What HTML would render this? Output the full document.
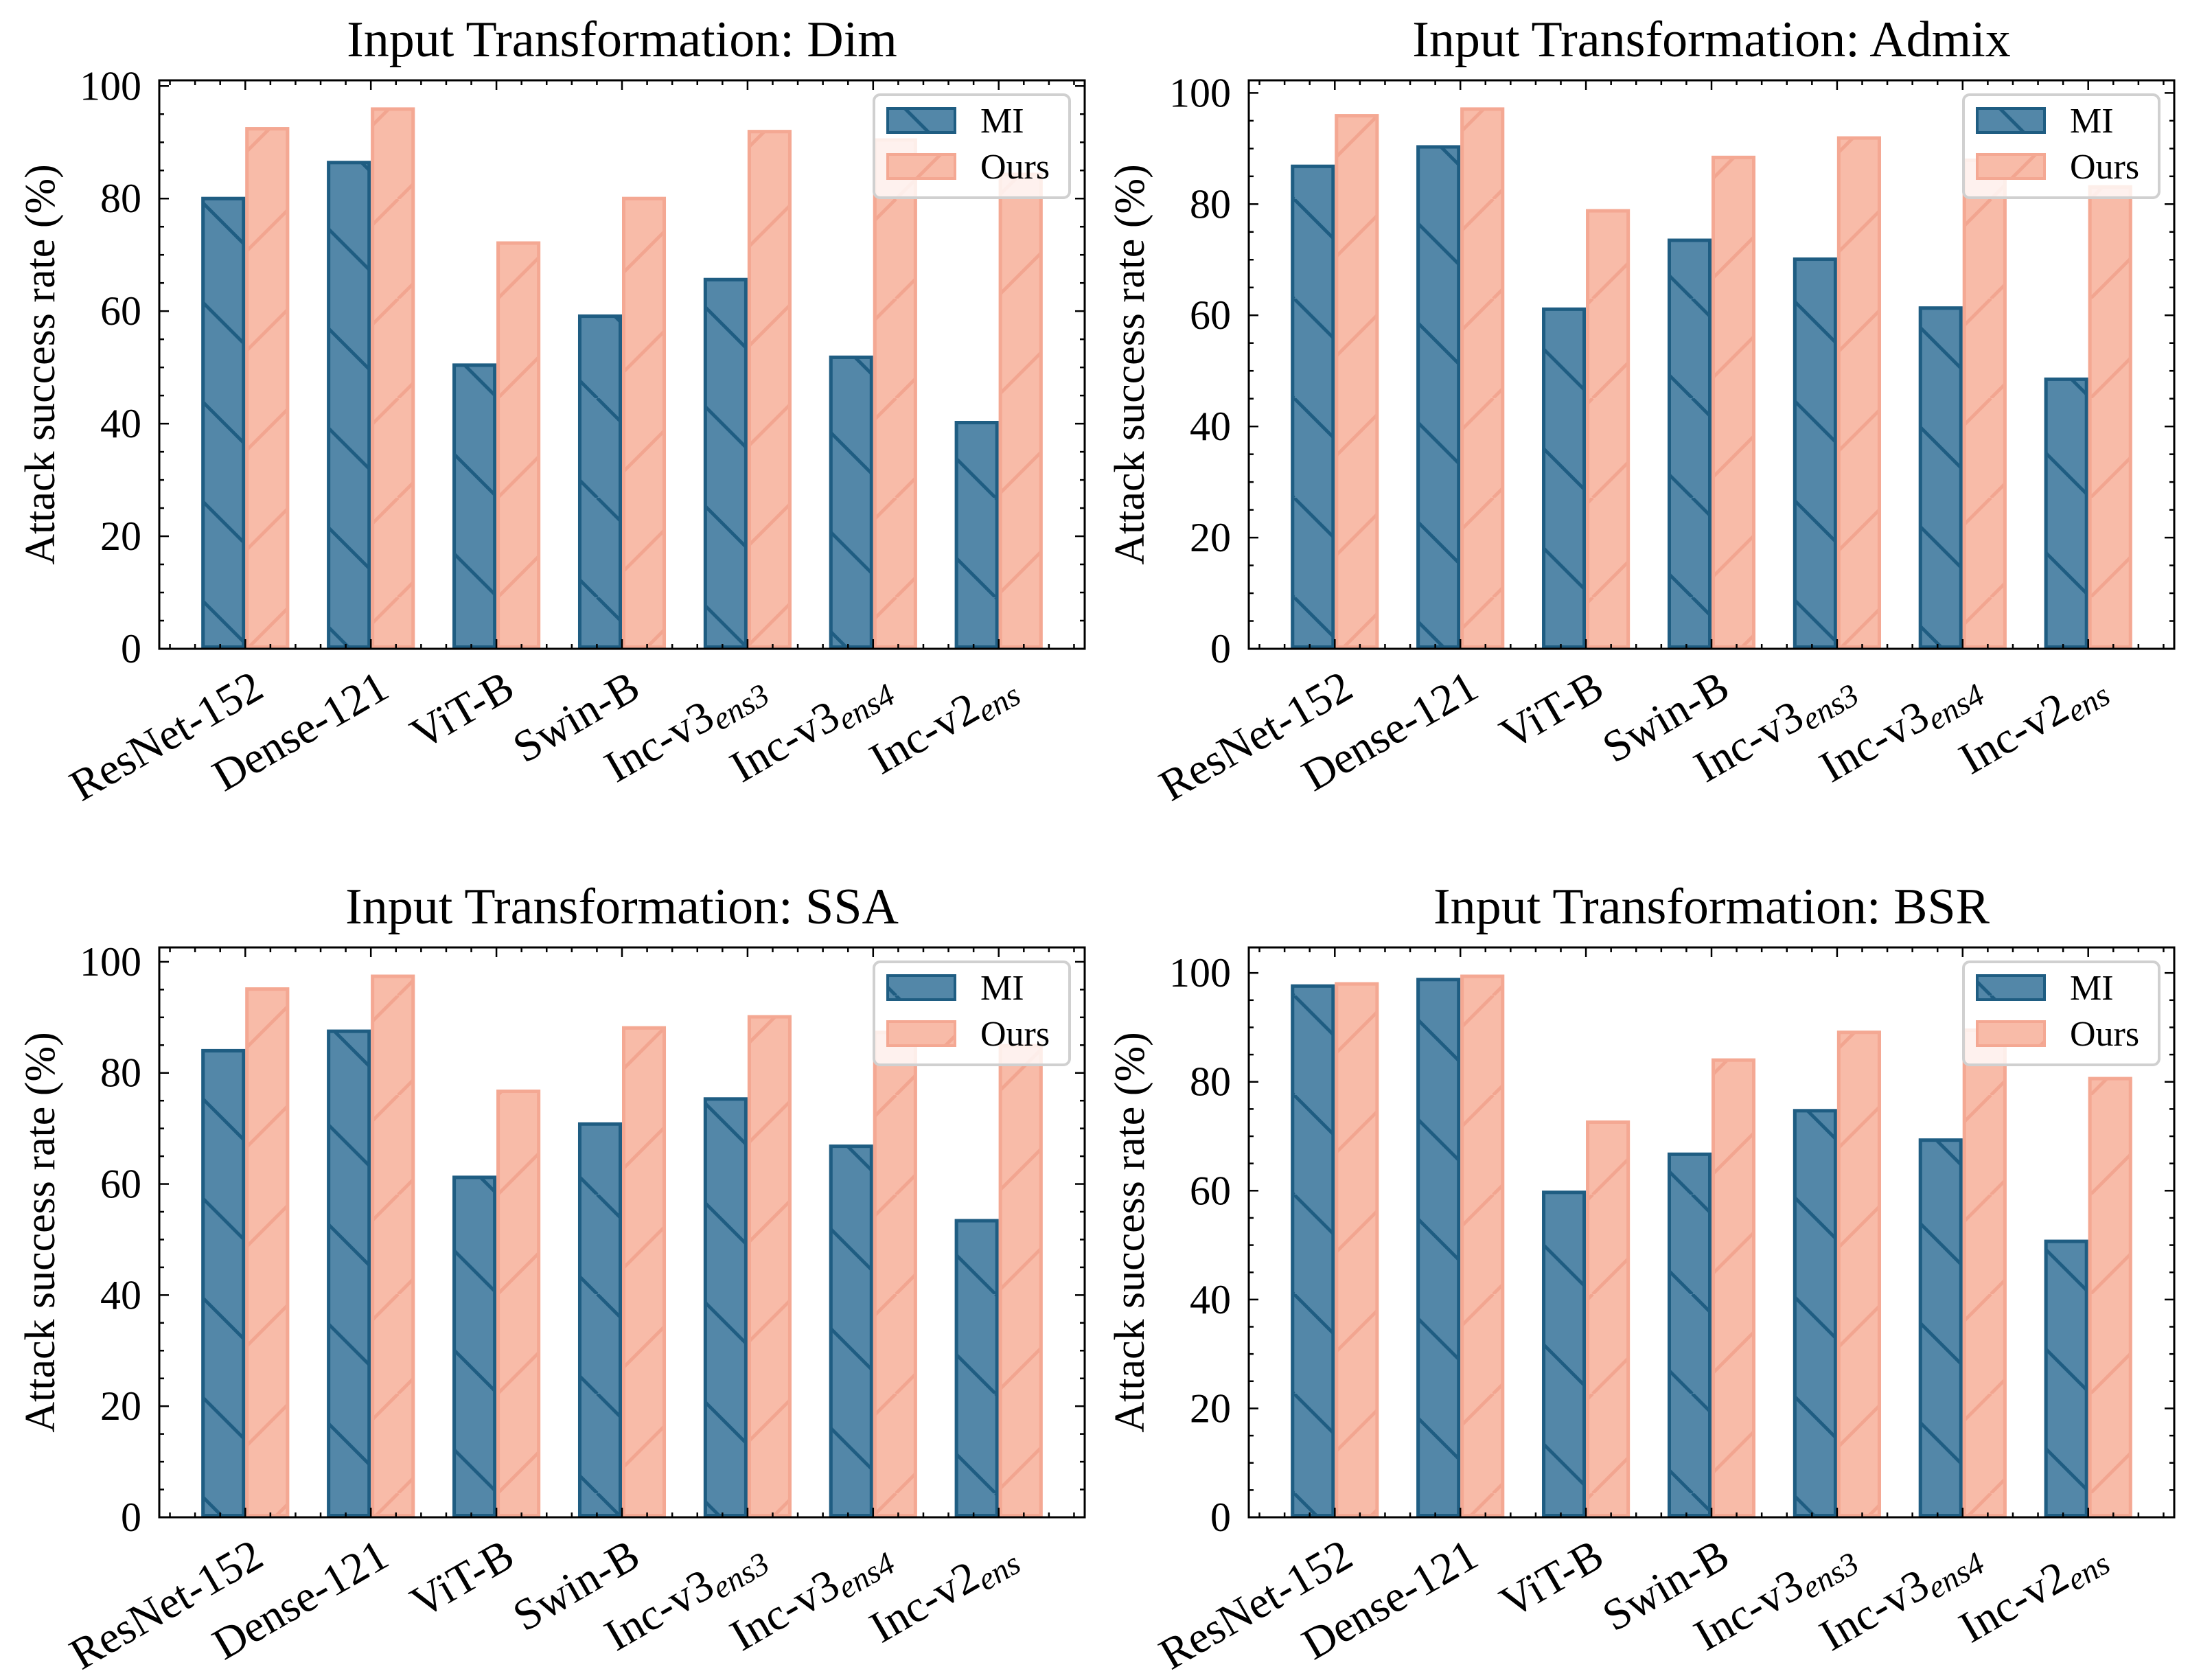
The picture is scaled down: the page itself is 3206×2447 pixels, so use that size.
<!DOCTYPE html>
<html><head><meta charset="utf-8">
<style>
html,body{margin:0;padding:0;background:#fff;}
svg{display:block;font-family:"Liberation Serif",serif;}
</style></head>
<body>
<svg id="fig" width="3206" height="2447" viewBox="0 0 3206 2447" xmlns="http://www.w3.org/2000/svg">
<defs>
<pattern id="hatchMI" patternUnits="userSpaceOnUse" width="145" height="145">
<line x1="0" y1="0" x2="145" y2="145" stroke="#1f5d82" stroke-width="5"/>
<line x1="-145" y1="0" x2="0" y2="145" stroke="#1f5d82" stroke-width="5"/>
<line x1="145" y1="0" x2="290" y2="145" stroke="#1f5d82" stroke-width="5"/>
</pattern>
<pattern id="hatchOurs" patternUnits="userSpaceOnUse" width="145" height="145">
<line x1="0" y1="145" x2="145" y2="0" stroke="#f2a590" stroke-width="5"/>
<line x1="-145" y1="145" x2="0" y2="0" stroke="#f2a590" stroke-width="5"/>
<line x1="145" y1="145" x2="290" y2="0" stroke="#f2a590" stroke-width="5"/>
</pattern>
</defs>
</svg>
<script>
const categories = ["ResNet-152","Dense-121","ViT-B","Swin-B","Inc-v3|ens3","Inc-v3|ens4","Inc-v2|ens"];
const seriesNames = ["MI","Ours"];
const yTicks = [0,20,40,60,80,100];
const dimMI = [80.3,86.7,50.7,59.4,65.9,52.1,40.5];
const dimOurs = [92.7,96.2,72.4,80.3,92.2,90.7,84.6];
const admixMI = [87.1,90.6,61.4,73.8,70.4,61.6,48.8];
const admixOurs = [96.2,97.4,79.1,88.7,92.2,88.2,83.4];
const ssaMI = [84.3,87.8,61.5,71.1,75.6,67.1,53.7];
const ssaOurs = [95.4,97.7,77.0,88.4,90.4,87.6,85.2];
const bsrMI = [97.9,99.1,60.0,67.0,75.0,69.6,51.0];
const bsrOurs = [98.3,99.7,72.9,84.3,89.4,89.8,80.9];
const panelTitles = ["Dim","Admix","SSA","BSR"];

const NS = "http://www.w3.org/2000/svg";
const svg = document.getElementById('fig');
function mk(tag, attrs, parent){
  const e = document.createElementNS(NS, tag);
  for (const k in attrs) e.setAttribute(k, attrs[k]);
  (parent||svg).appendChild(e);
  return e;
}
const panels = [
  {L:232,R:1580,T:117,B:945,title:panelTitles[0],mi:dimMI,ours:dimOurs,key:"dim"},
  {L:1819,R:3167,T:117,B:945,title:panelTitles[1],mi:admixMI,ours:admixOurs,key:"admix"},
  {L:232,R:1580,T:1380,B:2210,title:panelTitles[2],mi:ssaMI,ours:ssaOurs,key:"ssa"},
  {L:1819,R:3167,T:1380,B:2210,title:panelTitles[3],mi:bsrMI,ours:bsrOurs,key:"bsr"}
];
const w = 0.35, x0 = -0.685, x1 = categories.length - 1 + 0.685;

panels.forEach(p => {
  const g = mk('g', {});
  
  
  const ymax = Math.max(...p.mi, ...p.ours) * 1.05;
  const xs = v => p.L + (v - x0) / (x1 - x0) * (p.R - p.L);
  const ys = v => p.B - v / ymax * (p.B - p.T);

  categories.forEach((c, i) => {
    [[p.mi, "MI", -1], [p.ours, "Ours", 1]].forEach(([arr, nm, s]) => {
      const xa = s < 0 ? xs(i - w) : xs(i);
      const xb = s < 0 ? xs(i) : xs(i + w);
      const y = ys(arr[i]);
      const fill = nm === "MI" ? "#5387a8" : "#f8bba8";
      const edge = nm === "MI" ? "#1f5d82" : "#f4a893";
      const r = mk('rect', {x:xa, y:y, width:xb-xa, height:p.B-y, fill:fill}, g);
      
      
      const h = mk('rect', {x:xa+2.5, y:y+2.5, width:xb-xa-5, height:p.B-y-5, fill:'url(#hatch'+nm+')', stroke:edge, 'stroke-width':5}, g);
      
      
    });
  });

  const fr = mk('rect', {x:p.L, y:p.T, width:p.R-p.L, height:p.B-p.T, fill:'none', stroke:'#000', 'stroke-width':3}, g);
  
  

  for (let v = 0; v <= ymax; v += 5) {
    const y = ys(v);
    const major = v % 20 === 0;
    const len = major ? 14 : 7;
    mk('line', {x1:p.L, y1:y, x2:p.L+len, y2:y, stroke:'#000', 'stroke-width':2.5}, g);
    mk('line', {x1:p.R, y1:y, x2:p.R-len, y2:y, stroke:'#000', 'stroke-width':2.5}, g);
  }
  yTicks.forEach(v => {
    const t = mk('text', {x:p.L-26, y:ys(v)+20, 'text-anchor':'end', 'font-size':60}, g);
    t.textContent = v;
    
    
  });
  for (let k = Math.ceil(x0/0.2); k*0.2 <= x1; k++) {
    const v = k*0.2; const x = xs(v);
    const major = Math.abs(v - Math.round(v)) < 1e-6 && Math.round(v) >= 0 && Math.round(v) < categories.length;
    const len = major ? 14 : 7;
    mk('line', {x1:x, y1:p.B, x2:x, y2:p.B-len, stroke:'#000', 'stroke-width':2.5}, g);
    mk('line', {x1:x, y1:p.T, x2:x, y2:p.T+len, stroke:'#000', 'stroke-width':2.5}, g);
  }
  categories.forEach((c, i) => {
    const ax = xs(i) + 30, ay = p.B + 68;
    const t = mk('text', {x:ax, y:ay, 'text-anchor':'end', 'font-size':65, transform:`rotate(-30 ${ax} ${ay})`}, g);
    
    
    const parts = c.split('|');
    const a = mk('tspan', {}, t); a.textContent = parts[0];
    if (parts[1]) {
      const b = mk('tspan', {'font-size':47, 'font-style':'italic', dy:10}, t);
      b.textContent = parts[1];
    }
  });
  const tt = mk('text', {x:(p.L+p.R)/2, y:p.T-35, 'text-anchor':'middle', 'font-size':74}, g);
  tt.textContent = 'Input Transformation: ' + p.title;
  
  
  const lx = p.L - 169 + 16, ly = (p.T + p.B)/2;
  const yl = mk('text', {x:lx, y:ly, 'text-anchor':'middle', 'font-size':62, transform:`rotate(-90 ${lx} ${ly})`}, g);
  yl.textContent = 'Attack success rate (%)';
  
  
  const lg = mk('g', {}, g);
  
  
  const Lx = p.R - 307, Ly = p.T + 21;
  mk('rect', {x:Lx, y:Ly, width:285, height:150, rx:9, fill:'#fff', 'fill-opacity':0.8, stroke:'#d0d0d0', 'stroke-width':4}, lg);
  seriesNames.forEach((nm, j) => {
    const py = Ly + 18 + j*67;
    const fill = nm === "MI" ? "#5387a8" : "#f8bba8";
    const edge = nm === "MI" ? "#1f5d82" : "#f4a893";
    const e = mk('g', {}, lg);
    
    
    mk('rect', {x:Lx+18, y:py, width:102, height:39, fill:fill}, e);
    mk('rect', {x:Lx+20, y:py+2, width:98, height:35, fill:'url(#hatch'+nm+')', stroke:edge, 'stroke-width':4}, e);
    const tx = mk('text', {x:Lx+155, y:py+37, 'font-size':52}, e);
    tx.textContent = nm;
  });
});
</script>
</body></html>
